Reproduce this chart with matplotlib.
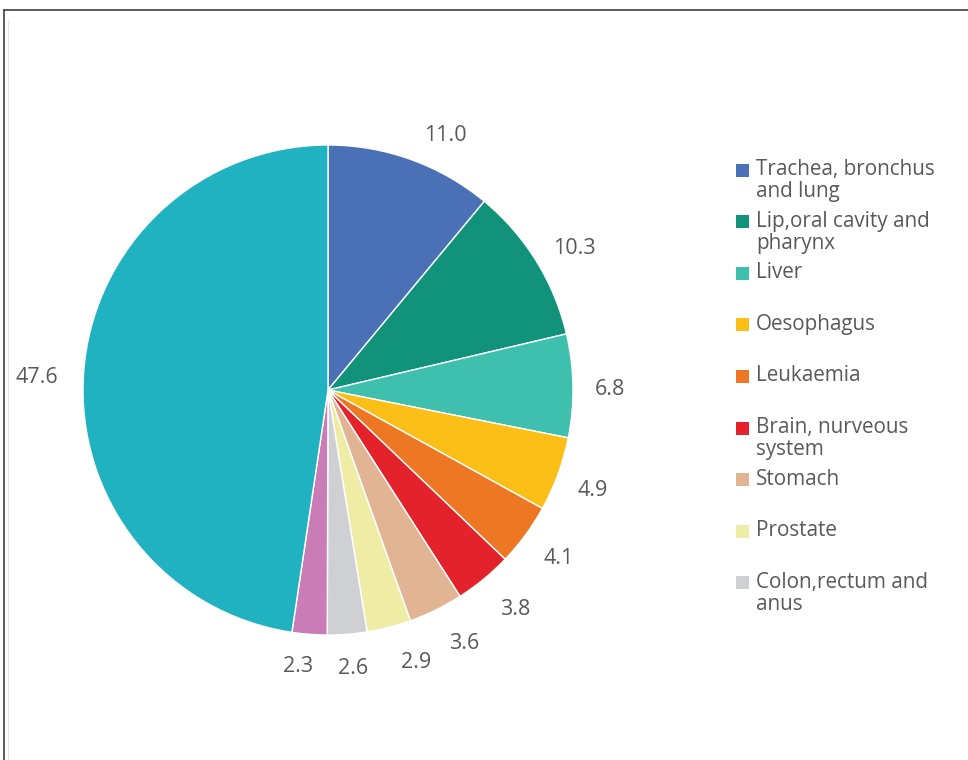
import matplotlib
matplotlib.use("Agg")
import numpy as np
import matplotlib.pyplot as plt
from matplotlib.patches import Rectangle
from matplotlib.lines import Line2D

categories = ["Trachea, bronchus\nand lung", "Lip,oral cavity and\npharynx", "Liver",
              "Oesophagus", "Leukaemia", "Brain, nurveous\nsystem", "Stomach",
              "Prostate", "Colon,rectum and\nanus", "Other 1", "Other 2"]
values = [11.0, 10.3, 6.8, 4.9, 4.1, 3.8, 3.6, 2.9, 2.6, 2.3, 47.6]
value_labels = ["11.0", "10.3", "6.8", "4.9", "4.1", "3.8", "3.6", "2.9", "2.6", "2.3", "47.6"]
colors = ["#4A71B6", "#10927B", "#3FBFAE", "#FBBF17", "#EE7724", "#E3222B",
          "#E1B593", "#EFECA5", "#CFD0D3", "#C97CB6", "#21B2C1"]
legend_count = 9

W, H = 968, 760
fig = plt.figure(figsize=(W / 100, H / 100), dpi=100)
plt.rcParams['font.family'] = ['Open Sans', 'DejaVu Sans']
txt_color = "#595959"

cx, cy, r = 328, 390, 245
ax = fig.add_axes([(cx - r) / W, (H - cy - r) / H, 2 * r / W, 2 * r / H])
wedges, _ = ax.pie(values, colors=colors, startangle=90, counterclock=False,
                   radius=1.0,
                   wedgeprops=dict(edgecolor="white", linewidth=1.0))
ax.set_xlim(-1, 1)
ax.set_ylim(-1, 1)
ax.set_aspect("equal")
ax.axis("off")

# outside-end data labels: box edge placed a small gap beyond the rim
renderer = fig.canvas.get_renderer()
gap_px = 22
# label spreading nudges (screen px: +x right, +y down)
nudge_px = {0: (20, 1), 1: (1, 0), 2: (0, 1), 3: (0, 3), 4: (3, 3), 5: (8, 4),
            6: (12, 4), 7: (18, 3), 8: (3, 1), 9: (-9, -1), 10: (-4, 5)}
for i, (w, lab) in enumerate(zip(wedges, value_labels)):
    ang = np.deg2rad((w.theta1 + w.theta2) / 2)
    t = ax.text(0, 0, lab, ha="center", va="center", color=txt_color, fontsize=15.5)
    bb = t.get_window_extent(renderer)
    tw, th = bb.width, bb.height * 0.75
    nx, ny = nudge_px.get(i, (0, 0))
    px = (r + gap_px) * np.cos(ang) + tw / 2 * np.cos(ang) + nx
    py = (r + gap_px) * np.sin(ang) + th / 2 * np.sin(ang) - 3 - ny
    t.set_position((px / r, py / r))

# manual legend (first entries only, as in reference)
y0, dy = 170, 51.6
for i in range(legend_count):
    yc = y0 + i * dy
    fig.add_artist(Rectangle((736 / W, 1 - (yc + 6.5) / H), 13 / W, 13 / H,
                             transform=fig.transFigure, facecolor=colors[i],
                             edgecolor="none"))
    fig.text(756 / W, 1 - (yc - 11) / H, categories[i], ha="left", va="top",
             color=txt_color, fontsize=14.9, linespacing=1.08)

# frame lines
fig.add_artist(Line2D([4 / W, 1], [1 - 10 / H, 1 - 10 / H], transform=fig.transFigure,
                      color="#404040", linewidth=1.2))
fig.add_artist(Line2D([4 / W, 4 / W], [0, 1 - 10 / H], transform=fig.transFigure,
                      color="#404040", linewidth=1.2))
fig.add_artist(Line2D([8 / W, 8 / W], [0, 1 - 21 / H], transform=fig.transFigure,
                      color="#DCE6EA", linewidth=0.8))

fig.savefig("out.png", dpi=100, facecolor="white")
